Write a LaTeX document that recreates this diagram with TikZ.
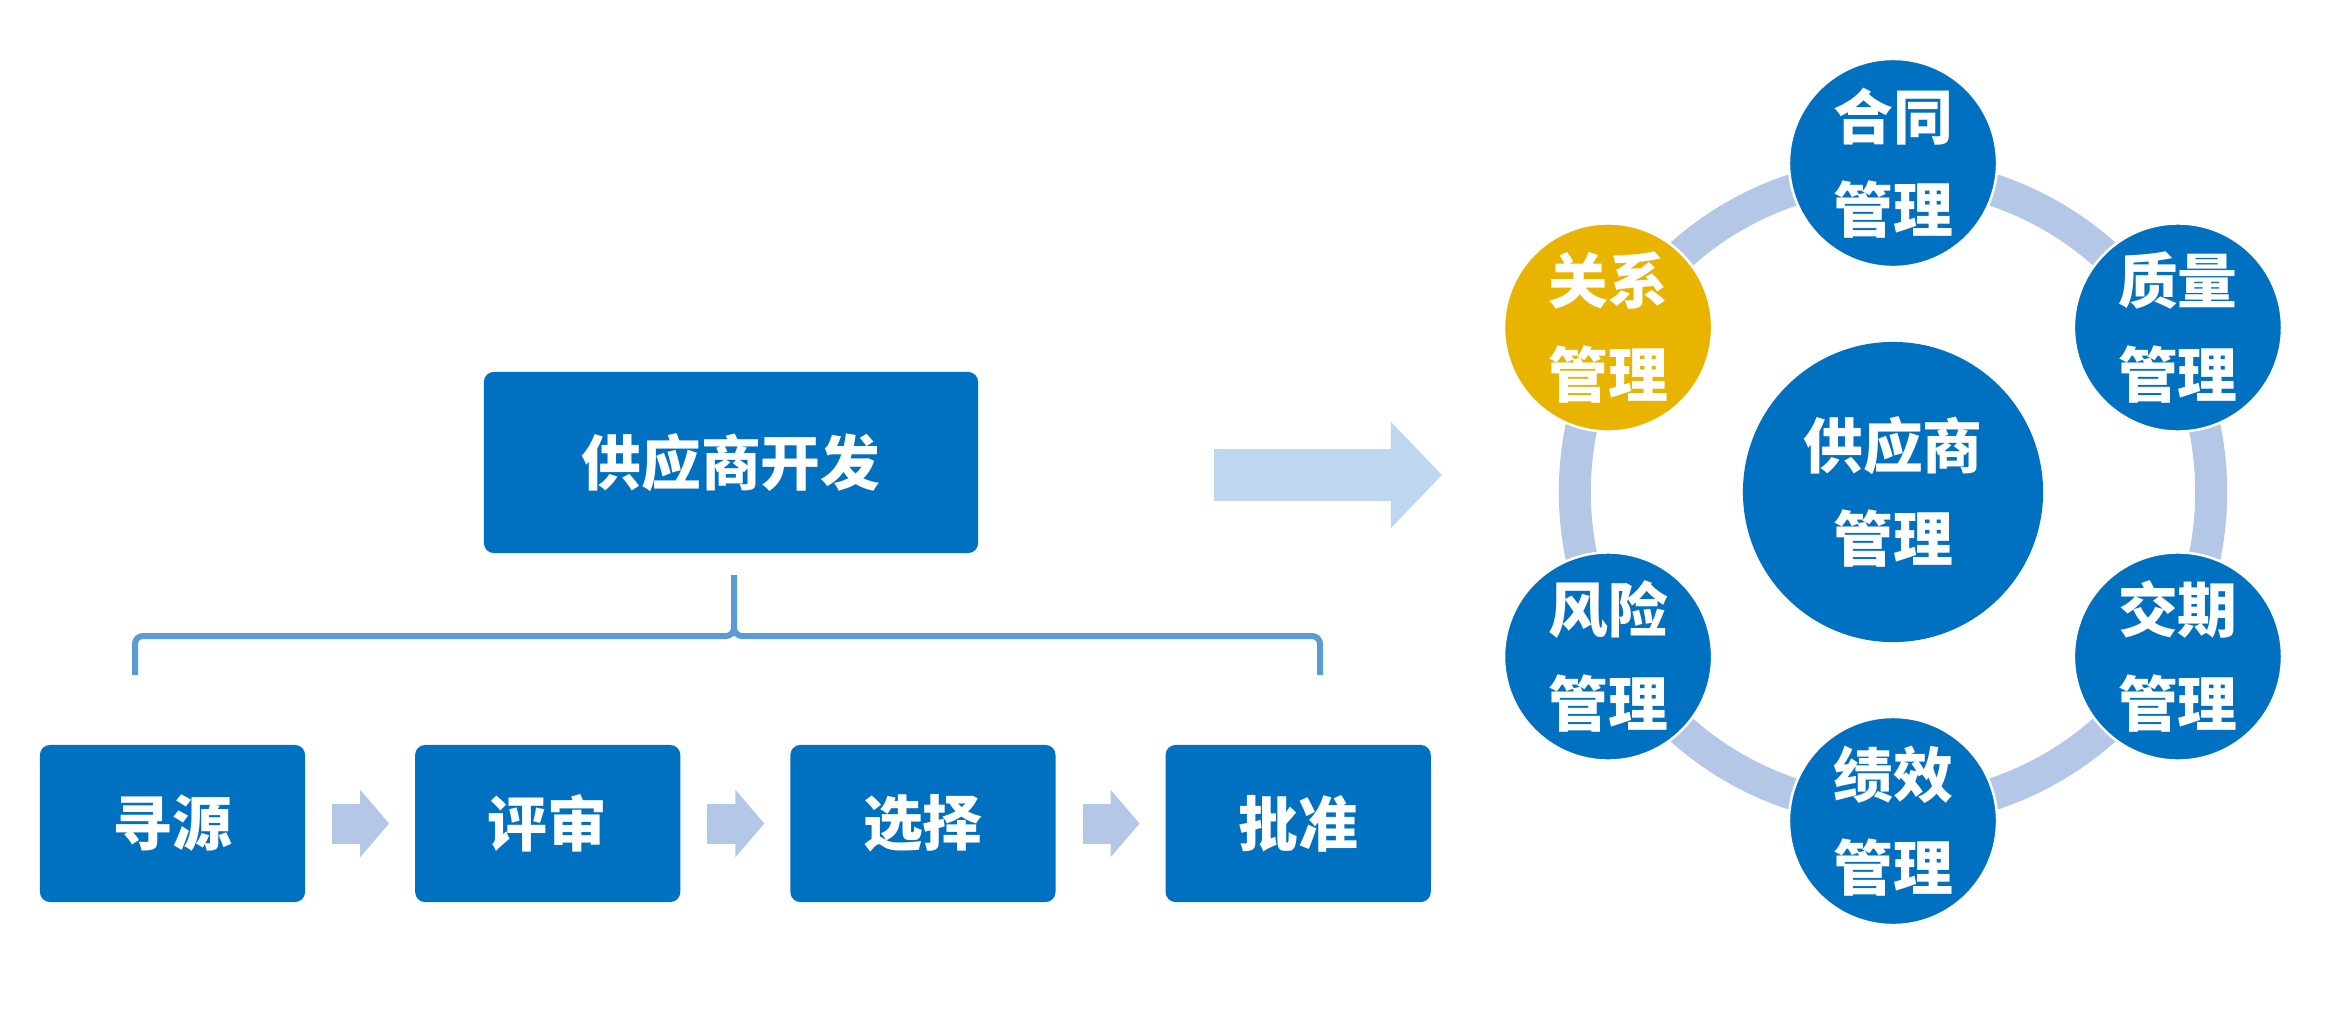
\documentclass[tikz,border=0pt]{standalone}
\usepackage{fontspec}
\usepackage{tikz}
\usetikzlibrary{calc,positioning,arrows.meta}
\newfontfamily\cjk{Noto Sans CJK SC}
\definecolor{boxblue}{RGB}{0,112,192}
\definecolor{gold}{RGB}{232,180,0}
\definecolor{ringblue}{RGB}{180,199,231}
\definecolor{flowblue}{RGB}{189,215,238}
\definecolor{braceblue}{RGB}{91,155,213}

\begin{document}
\begin{tikzpicture}[x=0.01cm,y=0.01cm,
  lbl/.style={text=white,font=\cjk\bfseries\fontsize{17pt}{26.5pt}\selectfont,align=center},
  stepbox/.style={lbl,fill=boxblue,rounded corners=0.1cm,minimum width=2.65cm,minimum height=1.57cm,inner sep=0pt,outer sep=0pt},
  petal/.style={lbl,circle,fill=boxblue,draw=white,line width=0.025cm,minimum size=2.08cm,inner sep=0pt},
  flowarrow/.style={ringblue,line width=0.40cm,-{Triangle[length=0.29cm,width=0.66cm]},shorten <=0.27cm,shorten >=0.26cm},
  bigarrow/.style={flowblue,line width=0.51cm,-{Triangle[length=0.51cm,width=1.03cm]}}]
  \useasboundingbox (0,0) rectangle (2352,1026);

  % Left: development steps
  \node[stepbox,minimum width=4.94cm,minimum height=1.81cm] (dev) at (731,563.5) {供应商开发};
  \node[stepbox] (src) at (172.5,202.5) {寻源};
  \node[stepbox,right=1.1cm of src] (rev) {评审};
  \node[stepbox,right=1.1cm of rev] (sel) {选择};
  \node[stepbox,right=1.1cm of sel] (app) {批准};

  \foreach \a/\b in {src/rev,rev/sel,sel/app}
    \draw[flowarrow] (\a) -- (\b);

  % Brace under the top box
  \coordinate (bt) at (734,451);
  \draw[braceblue,line width=0.06cm,rounded corners=0.08cm]
    (135,351) |- (734,390) -- (bt)
    (1320,351) |- (734,390) -- (bt);

  % Big arrow towards the management cycle
  \coordinate (arrS) at (1214,551);
  \coordinate (arrE) at (1442,551);
  \draw[bigarrow] (arrS) -- (arrE);

  % Right: management cycle
  \node[lbl,circle,fill=boxblue,minimum size=3.0cm,inner sep=0pt] (core) at (1893,534) {供应商\\管理};
  \draw[ringblue,line width=0.32cm] (core) circle (3.18cm);
  \foreach \ang/\nm/\txt in {90/con/合同,30/qua/质量,-30/del/交期,-90/perf/绩效,210/risk/风险}
    \node[petal] (\nm) at ($(core)+(\ang:329)$) {\txt\\管理};
  \node[petal,fill=gold] (rel) at ($(core)+(150:329)$) {关系\\管理};
\end{tikzpicture}
\end{document}
